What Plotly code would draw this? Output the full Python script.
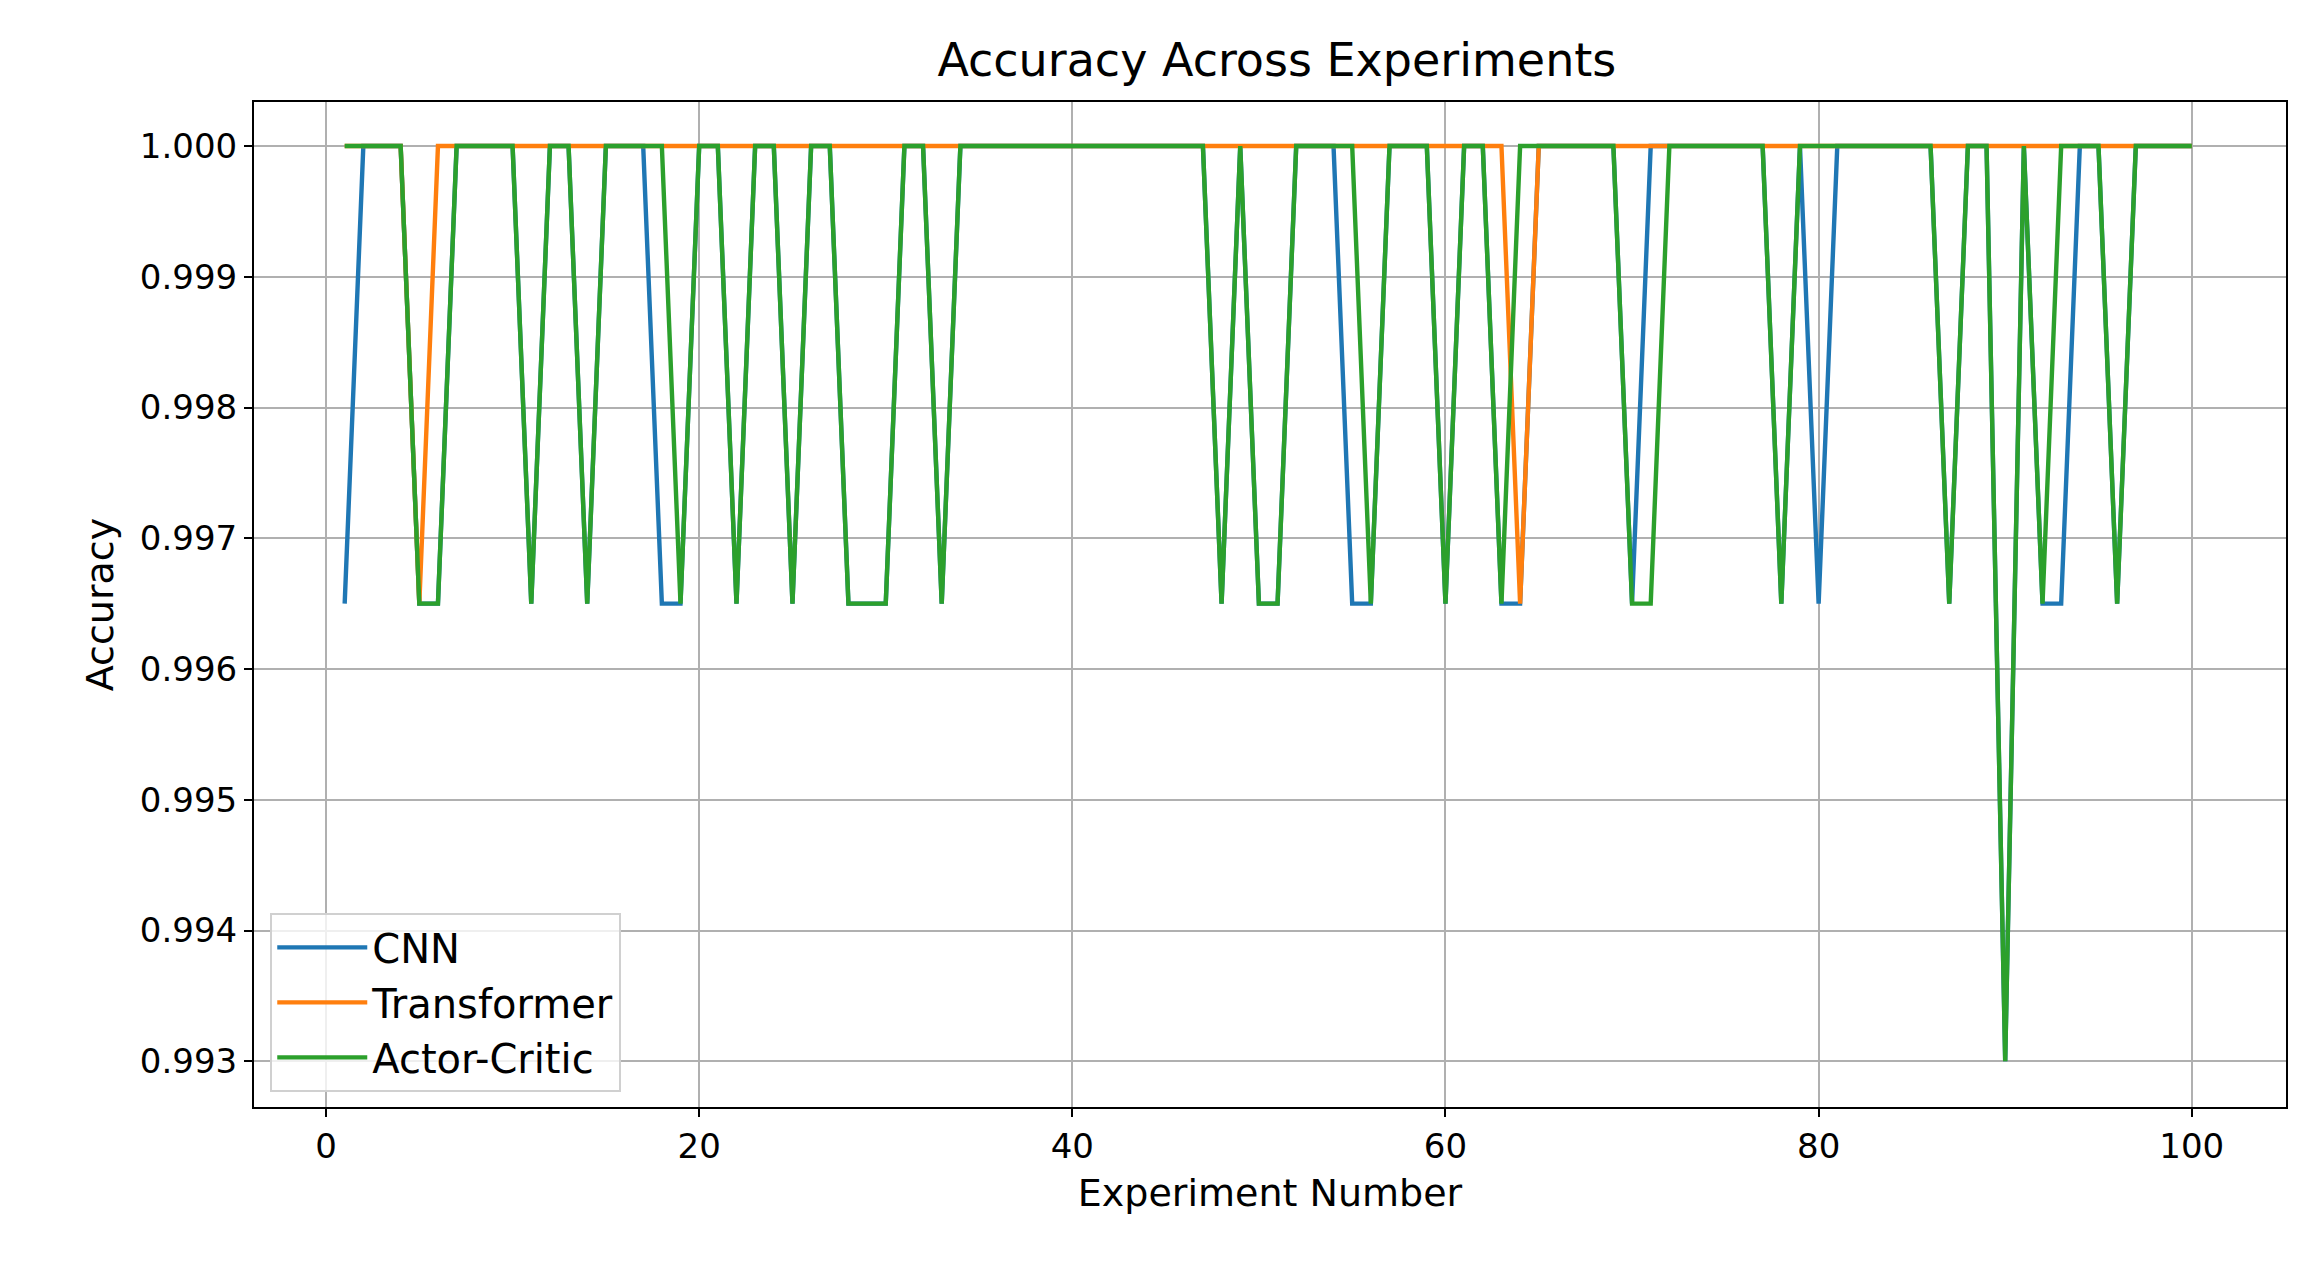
import plotly.graph_objects as go

# Experiment numbers 1..100 and the experiments where each model dropped
experiments = list(range(1, 101))
cnn_low = [1, 5, 6, 11, 14, 18, 19, 22, 25, 28, 29, 30, 33, 48, 50, 51, 55, 56, 60,
           63, 64, 70, 78, 80, 87, 92, 93, 96]
transformer_low = [5, 64]
actor_critic_low = [5, 6, 11, 14, 19, 22, 25, 28, 29, 30, 33, 48, 50, 51, 56, 60,
                    63, 70, 71, 78, 87, 92, 96]
deep_low = [90]  # 0.993 dip (CNN and Actor-Critic)

cnn = [0.993 if e in deep_low else (0.9965 if e in cnn_low else 1.0) for e in experiments]
transformer = [0.9965 if e in transformer_low else 1.0 for e in experiments]
actor_critic = [0.993 if e in deep_low else (0.9965 if e in actor_critic_low else 1.0) for e in experiments]

series = [("CNN", cnn, "#1f77b4"),
          ("Transformer", transformer, "#ff7f0e"),
          ("Actor-Critic", actor_critic, "#2ca02c")]

fig = go.Figure()
for name, vals, color in series:
    fig.add_trace(go.Scatter(x=experiments, y=vals, mode="lines", name=name,
                             line=dict(color=color, width=4.4)))

axis_style = dict(showline=True, linecolor="black", linewidth=2, mirror=True,
                  showgrid=True, gridcolor="#b0b0b0", gridwidth=2,
                  ticks="outside", ticklen=8, tickwidth=2, tickcolor="black",
                  zeroline=False, tickfont=dict(size=34, color="black"))

fig.update_layout(
    width=2307, height=1264,
    paper_bgcolor="white", plot_bgcolor="white",
    font=dict(family="DejaVu Sans", color="black"),
    title=dict(text="Accuracy Across Experiments", x=0.55, xanchor="center",
               y=0.972, font=dict(size=46)),
    margin=dict(l=246, r=29, t=94, b=165),
    legend=dict(x=0.008, y=0.015, xanchor="left", yanchor="bottom",
                bordercolor="#d0d0d0", borderwidth=2, bgcolor="rgba(255,255,255,0.8)",
                font=dict(size=40), itemwidth=90, tracegroupgap=10),
    showlegend=True,
)
fig.update_xaxes(title=dict(text="Experiment Number", font=dict(size=38)),
                 range=[-3.86, 105.05], tickvals=[0, 20, 40, 60, 80, 100], **axis_style)
fig.update_yaxes(title=dict(text="Accuracy", font=dict(size=38)),
                 range=[0.99265, 1.000337], dtick=0.001, tickformat=".3f", **axis_style)

fig.write_html("out.html")
